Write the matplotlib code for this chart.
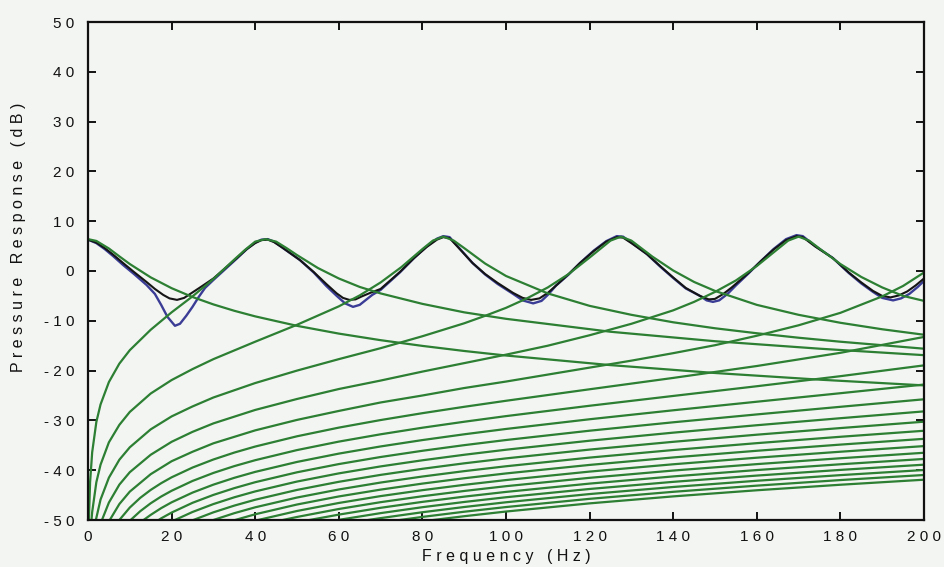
import matplotlib
matplotlib.use("Agg")
import matplotlib.pyplot as plt

# --- Fuentes ---
plt.rcParams['font.family'] = ['Liberation Sans', 'DejaVu Sans']

FLOOR_DB = -50

# --- Modos 0..5: frecuencia (Hz) y respuesta (dB) ---
m0_f = [0, 2, 5, 7.5, 10, 15, 20, 25, 30, 35, 40, 50, 60, 70, 80, 90, 100, 125, 150, 175, 200]
m0_db = [6.4, 6.04, 4.52, 2.94, 1.4, -1.28, -3.45, -5.22, -6.71, -7.99, -9.11, -11.01, -12.57,
         -13.89, -15.04, -16.06, -16.97, -18.9, -20.48, -21.82, -22.97]

m1_f = [0.21, 0.5, 1, 2, 3, 5, 7.5, 10, 15, 20, 25, 30, 35, 37.5, 40, 42.5, 45, 47.5, 50, 55,
        60, 65, 70, 80, 90, 100, 125, 150, 175, 200]
m1_db = [-50, -42.4, -36.4, -30.3, -26.8, -22.3, -18.6, -15.9, -11.8, -8.3, -5.1, -1.6, 2.3, 4.2,
         5.9, 6.4, 5.9, 4.6, 3.2, 0.6, -1.5, -3.2, -4.5, -6.6, -8.3, -9.6, -12.2, -14.1, -15.6, -16.9]

m2_f = [0.83, 1, 2, 3, 5, 7.5, 10, 15, 20, 25, 30, 40, 50, 60, 65, 70, 75, 80, 82.5, 85, 87.5,
        90, 95, 100, 110, 120, 130, 140, 150, 160, 170, 180, 190, 200]
m2_db = [-50, -48.4, -42.4, -38.9, -34.4, -30.9, -28.3, -24.6, -21.9, -19.7, -17.7, -14.2, -10.8,
         -7.1, -4.9, -2.3, 0.8, 4.4, 6.1, 6.9, 6.1, 4.6, 1.5, -1.0, -4.5, -7.0, -8.8, -10.3, -11.5,
         -12.5, -13.4, -14.2, -14.9, -15.6]

m3_f = [1.88, 3, 5, 7.5, 10, 15, 20, 25, 30, 40, 50, 60, 70, 80, 90, 95, 100, 105, 110, 115, 120,
        125, 127.5, 130, 135, 140, 145, 150, 160, 170, 180, 190, 200]
m3_db = [-50, -45.9, -41.5, -37.9, -35.4, -31.8, -29.2, -27.2, -25.4, -22.5, -20.0, -17.7, -15.5,
         -13.1, -10.5, -9.0, -7.4, -5.5, -3.3, -0.6, 2.7, 6.1, 6.9, 6.1, 2.9, 0.1, -2.2, -4.0, -6.8,
         -8.8, -10.4, -11.7, -12.8]

m4_f = [3.34, 5, 7.5, 10, 15, 20, 25, 30, 40, 50, 60, 70, 80, 90, 100, 110, 120, 130, 140, 145,
        150, 155, 160, 165, 167.5, 170, 172.5, 175, 180, 185, 190, 195, 200]
m4_db = [-50, -46.5, -42.9, -40.4, -36.9, -34.3, -32.3, -30.6, -27.9, -25.7, -23.7, -22.0, -20.2,
         -18.5, -16.8, -15.0, -12.9, -10.6, -7.9, -6.2, -4.2, -1.9, 1.0, 4.4, 6.1, 6.9, 6.1, 4.5,
         1.4, -1.2, -3.3, -5.0, -6.0]

m5_f = [5.21, 7.5, 10, 15, 20, 25, 30, 40, 50, 60, 70, 80, 90, 100, 110, 120, 130, 140, 150, 160,
        170, 180, 190, 195, 200]
m5_db = [-50, -46.8, -44.3, -40.8, -38.2, -36.3, -34.6, -32.0, -29.9, -28.1, -26.4, -25.0, -23.5,
         -22.2, -20.8, -19.4, -18.0, -16.5, -14.9, -13.0, -10.9, -8.4, -5.1, -3.0, -0.3]

# --- Modos 6..20: arrancan en FLOOR_DB en hi_start y siguen la rejilla GRID_HI ---
GRID_HI = [10, 12.5, 15, 17.5, 20, 25, 30, 35, 40, 50, 60, 70, 80, 90, 100, 120, 140, 160, 180, 200]
hi_start = [7.5, 10.2, 13.3, 16.9, 20.8, 25.2, 30.0, 35.2, 40.7, 46.6, 53.0, 59.8, 67.0, 74.6, 82.6]

m6_db = [-47.5, -45.55, -43.96, -42.61, -41.43, -39.47, -37.85, -36.46, -35.25, -33.19, -31.45,
         -29.93, -28.55, -27.27, -26.06, -23.75, -21.47, -19.08, -16.43, -13.24]
m7_db = [-48.23, -46.64, -45.29, -44.13, -42.16, -40.55, -39.18, -37.99, -35.96, -34.26, -32.79,
         -31.47, -30.27, -29.14, -27.06, -25.09, -23.14, -21.12, -18.95]
m8_db = [-48.97, -47.62, -46.45, -44.5, -42.9, -41.53, -40.34, -38.34, -36.67, -35.23, -33.95,
         -32.79, -31.72, -29.77, -27.97, -26.25, -24.54, -22.8]
m9_db = [-49.67, -48.51, -46.55, -44.96, -43.6, -42.41, -40.42, -38.77, -37.35, -36.1, -34.97,
         -33.94, -32.07, -30.38, -28.8, -27.27, -25.76]
m10_db = [-48.39, -46.8, -45.44, -44.26, -42.28, -40.64, -39.24, -38.01, -36.9, -35.89, -34.08,
          -32.46, -30.97, -29.56, -28.19]
m11_db = [-48.46, -47.11, -45.93, -43.96, -42.33, -40.94, -39.72, -38.62, -37.63, -35.86, -34.3,
          -32.87, -31.54, -30.26]
m12_db = [-48.63, -47.45, -45.49, -43.87, -42.48, -41.27, -40.19, -39.21, -37.47, -35.95, -34.57,
          -33.29, -32.08]
m13_db = [-48.85, -46.89, -45.27, -43.9, -42.69, -41.62, -40.65, -38.94, -37.44, -36.1, -34.86,
          -33.7]
m14_db = [-48.19, -46.58, -45.2, -44.01, -42.94, -41.98, -40.28, -38.81, -37.49, -36.29, -35.16]
m15_db = [-49.39, -47.79, -46.42, -45.23, -44.17, -43.21, -41.53, -40.07, -38.78, -37.6, -36.5]
m16_db = [-48.92, -47.55, -46.36, -45.31, -44.36, -42.69, -41.25, -39.97, -38.81, -37.74]
m17_db = [-48.62, -47.43, -46.38, -45.43, -43.77, -42.34, -41.08, -39.94, -38.89]
m18_db = [-49.62, -48.44, -47.39, -46.44, -44.79, -43.37, -42.12, -40.99, -39.96]
m19_db = [-49.38, -48.34, -47.4, -45.75, -44.34, -43.1, -41.98, -40.96]
m20_db = [-49.24, -48.3, -46.66, -45.26, -44.03, -42.92, -41.91]

# --- Respuesta total (negro) y variante (azul) ---
black_f = [0, 2, 4, 6, 8.4, 11, 14, 16, 18, 19.5, 21.3, 23, 25, 27, 30, 33, 35.6, 38, 40, 41.5,
           43, 44.5, 46.5, 50.7, 54, 57, 59.5, 61, 62.5, 64, 65.5, 67.5, 70, 74.6, 78, 81, 83.5,
           85, 86.5, 88.5, 92, 95, 98, 101.7, 104, 106, 108, 110, 112, 115, 117.7, 121, 124,
           126.5, 128, 130, 133.7, 137, 140, 143, 146.4, 148.5, 150, 152, 154, 158, 161, 164,
           167, 169.5, 171, 174, 178.2, 182, 185, 187.8, 190, 192, 194, 196, 198, 200]
black_db = [6.3, 5.7, 4.6, 3.3, 1.6, -0.2, -2.2, -3.6, -4.8, -5.5, -5.8, -5.4, -4.3, -3.2, -1.5,
            0.7, 2.6, 4.4, 5.6, 6.2, 6.3, 5.8, 4.7, 2.2, -0.2, -2.6, -4.5, -5.4, -5.8, -5.7, -5.1,
            -4.4, -3.6, -0.2, 2.6, 4.8, 6.3, 6.8, 6.6, 4.8, 1.6, -0.6, -2.4, -4.4, -5.4, -5.8,
            -5.5, -4.4, -2.9, -0.6, 1.6, 4.0, 5.9, 6.8, 6.7, 5.6, 3.4, 0.9, -1.3, -3.4, -5.0,
            -5.7, -5.6, -4.6, -3.3, -0.4, 2.0, 4.3, 6.2, 7.0, 6.8, 4.9, 2.6, -0.3, -2.3, -4.0,
            -5.0, -5.3, -4.9, -4.1, -2.9, -1.5]

blue_f = [0, 2, 4, 6, 8.4, 11, 14, 16, 17.5, 19, 20.8, 22, 23.5, 25, 26.5, 28, 30, 33, 35.6, 38,
          40, 41.5, 43, 44.5, 46.5, 50.7, 54, 57, 59.5, 61.5, 63.4, 65, 66.5, 68, 70, 74.6, 78, 81,
          83.5, 85, 86.5, 88.5, 92, 95, 98, 101.7, 104, 106.5, 108.5, 110, 112, 115, 117.7, 121,
          124, 126.5, 128, 130, 133.7, 137, 140, 143, 146.4, 148, 149.5, 151, 153, 155, 158, 161,
          164, 167, 169.5, 171, 174, 178.2, 182, 185, 187.8, 190, 192.6, 194.5, 196.5, 198.5, 200]
blue_db = [6.3, 5.6, 4.4, 3.0, 1.2, -0.6, -2.8, -4.6, -6.8, -9.2, -11.0, -10.6, -9.0, -7.2, -5.2,
           -3.4, -1.8, 0.5, 2.5, 4.4, 5.7, 6.3, 6.4, 5.9, 4.7, 2.2, -0.3, -3.0, -5.0, -6.5, -7.2,
           -6.8, -5.8, -4.8, -3.8, -0.3, 2.6, 4.9, 6.5, 7.0, 6.8, 4.9, 1.6, -0.7, -2.6, -4.6, -5.9,
           -6.5, -6.0, -4.8, -2.9, -0.7, 1.6, 4.1, 6.0, 7.0, 6.9, 5.7, 3.4, 0.8, -1.4, -3.5, -5.0,
           -5.9, -6.2, -5.9, -4.6, -2.9, -0.5, 2.0, 4.4, 6.4, 7.2, 7.0, 5.0, 2.6, -0.4, -2.5,
           -4.2, -5.4, -5.9, -5.5, -4.6, -3.2, -2.0]

# --- Ejes ---
x_ticks = [0, 20, 40, 60, 80, 100, 120, 140, 160, 180, 200]
y_ticks = [-50, -40, -30, -20, -10, 0, 10, 20, 30, 40, 50]

GREEN = '#2c7f33'
BLUE = '#3a3c95'
BLACK = '#151515'
BG = '#f3f5f2'

fig = plt.figure(figsize=(9.44, 5.67), dpi=100, facecolor=BG)
ax = fig.add_axes([88 / 944, 1 - 520 / 567, 836 / 944, 498 / 567], facecolor=BG)

ax.plot(blue_f, blue_db, color=BLUE, lw=1.7, zorder=2)
ax.plot(black_f, black_db, color=BLACK, lw=1.5, zorder=3)

low_modes = [(m0_f, m0_db), (m1_f, m1_db), (m2_f, m2_db), (m3_f, m3_db), (m4_f, m4_db), (m5_f, m5_db)]
for f, db in low_modes:
    ax.plot(f, db, color=GREEN, lw=1.6, zorder=4)

hi_db = [m6_db, m7_db, m8_db, m9_db, m10_db, m11_db, m12_db, m13_db, m14_db, m15_db,
         m16_db, m17_db, m18_db, m19_db, m20_db]
for f0, db in zip(hi_start, hi_db):
    f = [f0] + GRID_HI[-len(db):]
    ax.plot(f, [FLOOR_DB] + db, color=GREEN, lw=1.6, zorder=4)

ax.set_xlim(0, 200)
ax.set_ylim(-50, 50)

def spaced(v):
    # etiquetas con los digitos separados, como en el original
    return ' '.join(str(v))

ax.set_xticks(x_ticks)
ax.set_xticklabels([spaced(v) for v in x_ticks])
ax.set_yticks(y_ticks)
ax.set_yticklabels([spaced(v) for v in y_ticks])
ax.tick_params(axis='both', direction='in', top=True, right=True, length=6, width=1.4,
               labelsize=11, colors='#111111')
ax.tick_params(axis='x', pad=7)
ax.tick_params(axis='y', pad=10)
for s in ax.spines.values():
    s.set_linewidth(1.6)
    s.set_color('#111111')
    s.set_zorder(6)

fig.text(506 / 944, 1 - 557 / 567, spaced('Frequency') + '   ' + spaced('(Hz)'),
         ha='center', va='center', fontsize=11.5, color='#111111')
fig.text(19 / 944, 1 - 237 / 567,
         spaced('Pressure') + '   ' + spaced('Response') + '   ' + spaced('(dB)'),
         ha='center', va='center', rotation=90, fontsize=11.5, color='#111111')

fig.savefig('out.png', dpi=100, facecolor=BG)
